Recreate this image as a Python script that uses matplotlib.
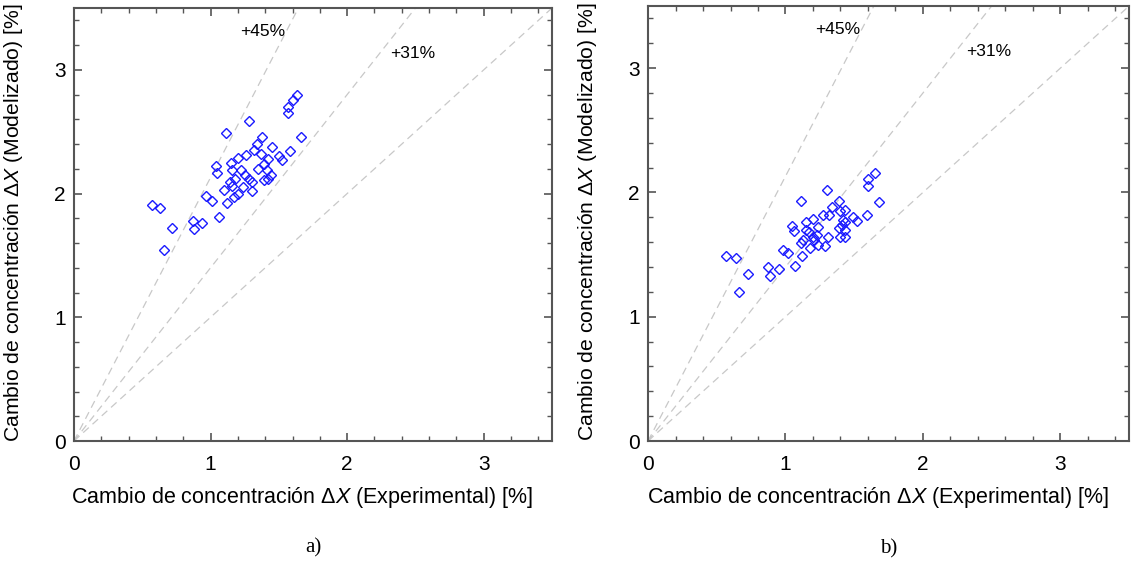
import numpy as np
import matplotlib
matplotlib.use("Agg")
import matplotlib.pyplot as plt
from matplotlib.ticker import MultipleLocator

# Panel a) - experimental vs modelled concentration change [%]
exp_a = [0.57, 0.63, 0.66, 0.72, 0.87, 0.88, 0.94, 0.97, 1.01, 1.06,
         1.12, 1.17, 1.10, 1.05, 1.04, 1.11, 1.14, 1.16, 1.18, 1.16,
         1.15, 1.20, 1.22, 1.24, 1.26, 1.28, 1.28, 1.30, 1.30, 1.32,
         1.34, 1.37, 1.38, 1.39, 1.39, 1.41, 1.42, 1.44, 1.45, 1.50,
         1.52, 1.58, 1.57, 1.57, 1.60, 1.63, 1.66, 1.20, 1.25, 1.35,
         1.42]
mod_a = [1.91, 1.88, 1.54, 1.72, 1.78, 1.71, 1.76, 1.98, 1.94, 1.81,
         1.92, 1.97, 2.03, 2.17, 2.22, 2.49, 2.09, 2.06, 2.12, 2.19,
         2.25, 2.29, 2.19, 2.05, 2.31, 2.59, 2.12, 2.02, 2.09, 2.35,
         2.40, 2.32, 2.46, 2.24, 2.11, 2.19, 2.28, 2.15, 2.38, 2.30,
         2.27, 2.34, 2.65, 2.70, 2.76, 2.80, 2.46, 2.00, 2.15, 2.20,
         2.12]

# Panel b)
exp_b = [1.65, 1.60, 1.60, 1.68, 1.59, 1.30, 1.11, 1.39, 1.34, 1.40,
         1.43, 1.32, 1.27, 1.20, 1.15, 1.24, 1.42, 1.43, 1.41, 1.49,
         1.52, 1.05, 1.06, 1.15, 1.17, 1.39, 1.43, 1.23, 1.31, 1.20,
         1.21, 1.40, 1.43, 1.13, 1.11, 1.24, 1.29, 1.18, 0.98, 1.02,
         1.12, 0.57, 0.64, 0.87, 0.89, 0.95, 1.07, 0.73, 0.66]
mod_b = [2.16, 2.11, 2.05, 1.92, 1.82, 2.02, 1.93, 1.93, 1.88, 1.85,
         1.86, 1.82, 1.82, 1.79, 1.76, 1.72, 1.78, 1.76, 1.74, 1.80,
         1.77, 1.73, 1.69, 1.70, 1.68, 1.71, 1.70, 1.66, 1.64, 1.64,
         1.62, 1.64, 1.64, 1.62, 1.59, 1.58, 1.57, 1.55, 1.54, 1.51,
         1.49, 1.49, 1.47, 1.40, 1.33, 1.38, 1.41, 1.34, 1.20]

# reference lines through the origin
slopes = [2.13, 1.40, 1.0]
line_labels = ["+45%", "+31%"]
label_pos = [(1.38, 3.31), (2.48, 3.13)]
captions = ["a)", "b)"]

plt.rcParams["font.family"] = ["Liberation Sans", "DejaVu Sans"]
plt.rcParams["mathtext.fontset"] = "custom"
plt.rcParams["mathtext.it"] = "Liberation Sans:italic"
plt.rcParams["mathtext.rm"] = "Liberation Sans"

fig = plt.figure(figsize=(11.31, 5.62), dpi=100)
ax_a = fig.add_axes([0.0654, 0.2153, 0.4227, 0.7705])
ax_b = fig.add_axes([0.5730, 0.2153, 0.4253, 0.7740])

panels = [(ax_a, exp_a, mod_a), (ax_b, exp_b, mod_b)]
xline = np.array([0, 3.5])

for i, (ax, xs, ys) in enumerate(panels):
    for s in slopes:
        ax.plot(xline, s * xline, ls=(0, (6, 4)), color="#c8c8c8", lw=0.9, zorder=1)
    ax.plot(xs, ys, ls="none", marker="D", ms=5.3, mfc="none", mec="#1a1aff",
            mew=1.0, zorder=3)
    for lab, (lx, ly) in zip(line_labels, label_pos):
        ax.text(lx, ly, lab, ha="center", va="center", fontsize=12.5)

    ax.set_xlim(0, 3.5)
    ax.set_ylim(0, 3.5)
    ax.xaxis.set_major_locator(MultipleLocator(1))
    ax.yaxis.set_major_locator(MultipleLocator(1))
    ax.xaxis.set_minor_locator(MultipleLocator(0.2))
    ax.yaxis.set_minor_locator(MultipleLocator(0.2))
    ax.tick_params(which="both", direction="in", top=True, right=True,
                   color="#555555", labelsize=15)
    ax.tick_params(which="major", length=6, width=1.2)
    ax.tick_params(axis="x", which="major", pad=10)
    ax.tick_params(axis="y", which="major", pad=6)
    ax.tick_params(which="minor", length=3.5, width=1.0)
    for sp in ax.spines.values():
        sp.set_color("#555555")
        sp.set_linewidth(1.5)

    ax.set_xlabel("Cambio de concentración $\\mathit{ΔX}$ (Experimental) [%]",
                  fontsize=15.5)
    ax.xaxis.set_label_coords(0.477, -0.102)
    ax.set_ylabel("Cambio de concentración $\\mathit{ΔX}$ (Modelizado) [%]",
                  fontsize=15.2)
    ax.yaxis.set_label_coords(-0.103, 0.505)
    ax.text(0.5, -0.247, captions[i], transform=ax.transAxes, ha="center",
            va="center", fontsize=15, family="Liberation Serif")

fig.savefig("out.png", dpi=100)
